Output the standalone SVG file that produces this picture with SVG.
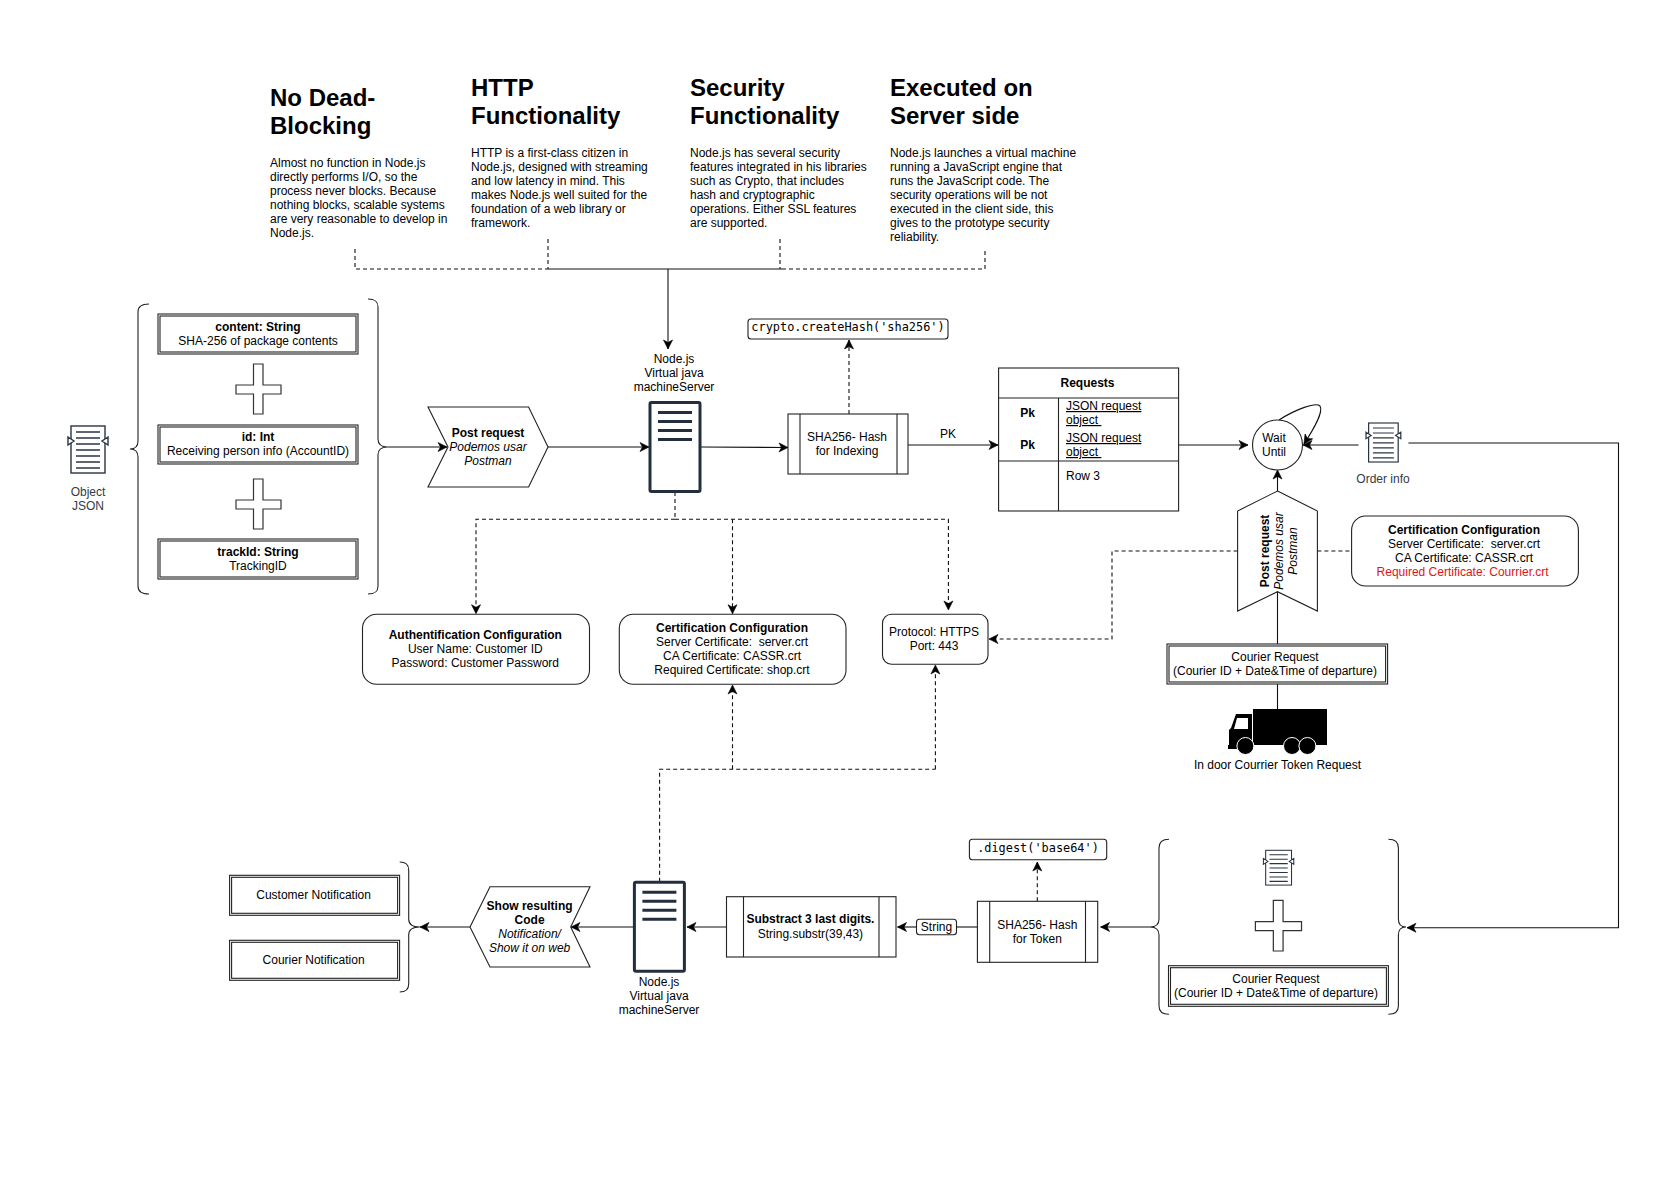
<svg xmlns="http://www.w3.org/2000/svg" width="1674" height="1189" viewBox="0 0 1674 1189">
<style>
text{font-family:"Liberation Sans",Arial,sans-serif;font-size:12px;fill:#000}
text:not(.h):not(.r){transform:translate(0,-1px)}
.c{text-anchor:middle}
.b{font-weight:bold}
.i{font-style:italic}
.h{font-size:24px;font-weight:bold}
.m{font-family:"DejaVu Sans Mono","Liberation Mono",monospace;font-size:11.9px;text-anchor:middle}
.g{fill:#333b47}
.s{fill:#fff;stroke:#222;stroke-width:1.1}
.n{fill:none;stroke:#222;stroke-width:1.1}
.k{fill:none;stroke:#111;stroke-width:1.1}
.a{marker-end:url(#arr)}
.d{fill:none;stroke:#111;stroke-width:1.1;stroke-dasharray:4 3}
.da{marker-end:url(#arr)}
.u{text-decoration:underline;white-space:pre}
</style>
<defs>
<marker id="arr" markerUnits="userSpaceOnUse" markerWidth="12" markerHeight="12" refX="10" refY="6" orient="auto">
<path d="M1 1.5 L10 6 L1 10.5 L3.5 6 Z" fill="#000" stroke="#000" stroke-width=".6"/>
</marker>
<g id="doc" fill="#fff" stroke="#2b3442" stroke-width="1.4">
<rect x="3" y="0" width="34" height="47"/>
<path d="M8 6H32M8 12H32M8 18H32M8 24H32M8 30H32M8 36H32M8 42H32" fill="none"/>
<path d="M0 11 L6 15 L0 19 Z M40 11 L34 15 L40 19 Z"/>
</g>
<g id="server">
<rect x="1" y="0.5" width="50" height="89" rx="1.5" fill="#fff" stroke="#232f3e" stroke-width="3"/>
<path d="M9 10.5H43M9 19.5H43M9 28.5H43M9 37.5H43" stroke="#232f3e" stroke-width="3" fill="none"/>
</g>
<path id="cross" d="M17.5 0H27V21H45V30H27V50H17.5V30H0V21H17.5Z" fill="#fff" stroke="#333" stroke-width="1.2"/>
</defs>
<rect width="1674" height="1189" fill="#fff"/>
<g id="diagram" transform="translate(0 1)">
<g id="connectors">
<path class="d" d="M355 248V268H546M548 238V268M780 238V268M782 268H985V248"/>
<path class="k" d="M546 268H782"/>
<path class="k a" d="M668 268V348"/>
<path class="k a" d="M387.5 446H447"/>
<path class="k a" d="M548 446H649"/>
<path class="k a" d="M701 446L788 446.5"/>
<path class="d da" d="M849 413V339"/>
<path class="k a" d="M908 444H998"/>
<path class="k a" d="M1178.6 444H1248"/>
<path class="k a" d="M1279 419C1296 408 1316 401 1320 405C1324 411 1313 429 1304 443"/>
<path class="k a" d="M1358.6 444H1303" stroke-width="1.6"/>
<path class="k a" d="M1408.4 442H1618.5V926.7H1407"/>
<path class="k a" d="M1277.5 490V469"/>
<path class="k" d="M1277.5 590.7V643M1277.5 683V708"/>
<path class="d da" d="M1237.6 550H1112V638H989"/>
<path class="d" d="M1317.4 550H1351.6"/>
<path class="d" d="M675 491V518.3"/>
<path class="d da" d="M675 518.3H476V612.7"/>
<path class="d da" d="M732.5 518.3V612.7"/>
<path class="d da" d="M675 518.3H948.4V609"/>
<path class="d" d="M659.6 880.7V768.3H935.4"/>
<path class="d da" d="M935.4 768.3V664"/>
<path class="d da" d="M732.5 768.3V684"/>
<path class="k a" d="M470 926H420"/>
<path class="k a" d="M633 926H571"/>
<path class="k a" d="M726.5 926H687"/>
<path class="k a" d="M916.5 926H897.5"/>
<path class="k" d="M956.6 926H977.4"/>
<path class="d da" d="M1037.3 900.3V861"/>
<path class="k a" d="M1150 926H1100.6"/>
</g>

<g id="note-deadblocking">
<text class="h" x="270" y="105">No Dead-</text><text class="h" x="270" y="133">Blocking</text>
<text x="270" y="167">Almost no function in Node.js</text>
<text x="270" y="181">directly performs I/O, so the</text>
<text x="270" y="195">process never blocks. Because</text>
<text x="270" y="209">nothing blocks, scalable systems</text>
<text x="270" y="223">are very reasonable to develop in</text>
<text x="270" y="237">Node.js.</text>
</g>
<g id="note-http">
<text class="h" x="471" y="95">HTTP</text><text class="h" x="471" y="123">Functionality</text>
<text x="471" y="157">HTTP is a first-class citizen in</text>
<text x="471" y="171">Node.js, designed with streaming</text>
<text x="471" y="185">and low latency in mind. This</text>
<text x="471" y="199">makes Node.js well suited for the</text>
<text x="471" y="213">foundation of a web library or</text>
<text x="471" y="227">framework.</text>
</g>
<g id="note-security">
<text class="h" x="690" y="95">Security</text><text class="h" x="690" y="123">Functionality</text>
<text x="690" y="157">Node.js has several security</text>
<text x="690" y="171">features integrated in his libraries</text>
<text x="690" y="185">such as Crypto, that includes</text>
<text x="690" y="199">hash and cryptographic</text>
<text x="690" y="213">operations. Either SSL features</text>
<text x="690" y="227">are supported.</text>
</g>
<g id="note-server">
<text class="h" x="890" y="95">Executed on</text><text class="h" x="890" y="123">Server side</text>
<text x="890" y="157">Node.js launches a virtual machine</text>
<text x="890" y="171">running a JavaScript engine that</text>
<text x="890" y="185">runs the JavaScript code. The</text>
<text x="890" y="199">security operations will be not</text>
<text x="890" y="213">executed in the client side, this</text>
<text x="890" y="227">gives to the prototype security</text>
<text x="890" y="241">reliability.</text>
</g>

<g id="object-json">
<use href="#doc" transform="translate(68 425)"/>
<text class="c g" x="88" y="496">Object</text><text class="c g" x="88" y="510">JSON</text>
</g>
<g id="brace-left"><path class="n" d="M149 303C142 303 138 305 138 311V440C138 446 134 448 130 448C134 448 138 450 138 456V585C138 591 142 593 149 593"/></g>
<g id="brace-right"><path class="n" d="M368 298C375 298 378 300 378 306V438C378 444 382 446 387.5 446C382 446 378 448 378 454V585C378 591 375 593 368 593"/></g>

<g id="content-box"><rect class="s" x="158" y="313" width="200" height="40"/><rect class="s" x="160" y="315" width="196" height="36"/>
<text class="c b" x="258" y="331">content: String</text><text class="c" x="258" y="345">SHA-256 of package contents</text></g>
<g id="plus-1"><use href="#cross" transform="translate(236 363)"/></g>
<g id="id-box"><rect class="s" x="158" y="424" width="200" height="39"/><rect class="s" x="160" y="426" width="196" height="35"/>
<text class="c b" x="258" y="441">id: Int</text><text class="c" x="258" y="455">Receiving person info (AccountID)</text></g>
<g id="plus-2"><use href="#cross" transform="translate(236 478)"/></g>
<g id="trackid-box"><rect class="s" x="158" y="538" width="200" height="40"/><rect class="s" x="160" y="540" width="196" height="36"/>
<text class="c b" x="258" y="556">trackId: String</text><text class="c" x="258" y="570">TrackingID</text></g>

<g id="post-request"><path class="s" d="M428 406H528.6L548 446L528.6 486H428L448 446Z"/>
<text class="c b" x="488" y="437">Post request</text><text class="c i" x="488" y="451">Podemos usar</text><text class="c i" x="488" y="465">Postman</text></g>

<g id="server-top"><text class="c" x="674" y="363">Node.js</text><text class="c" x="674" y="377">Virtual java</text><text class="c" x="674" y="391">machineServer</text>
<use href="#server" transform="translate(649 401)"/></g>

<g id="crypto"><rect class="s" x="748" y="318" width="200" height="20" rx="3"/><text class="m" x="848" y="331">crypto.createHash('sha256')</text></g>
<g id="sha-index"><rect class="s" x="788" y="413" width="120" height="60"/><path class="n" d="M800 413V473M897 413V473"/>
<text class="c" x="847" y="441">SHA256- Hash</text><text class="c" x="847" y="455">for Indexing</text></g>
<text class="c" x="948" y="438">PK</text>

<g id="requests"><rect class="s" x="998.6" y="367" width="180" height="143"/><path class="n" d="M998.6 397H1178.6M998.6 460H1178.6M1058.5 397V510"/>
<text class="c b" x="1087.5" y="387">Requests</text>
<text class="c b" x="1027.7" y="417">Pk</text><text class="c b" x="1027.7" y="449">Pk</text>
<text class="u" x="1066" y="410">JSON request</text><text class="u" x="1066" y="424">object </text>
<text class="u" x="1066" y="442">JSON request</text><text class="u" x="1066" y="456">object </text>
<text x="1066" y="480">Row 3</text></g>

<g id="wait-until"><circle class="s" cx="1277.5" cy="444" r="25"/><text class="c" x="1274" y="442">Wait</text><text class="c" x="1274" y="456">Until</text></g>
<g id="order-info"><use href="#doc" transform="translate(1366 422) scale(.87 .83)"/><text class="c g" x="1383" y="483">Order info</text></g>

<g id="post-request-up"><path class="s" d="M1277.5 490L1317.4 510V610L1277.5 590.7L1237.6 610V510Z"/>
<text class="c b r" transform="translate(1269 550) rotate(-90)">Post request</text>
<text class="c i r" transform="translate(1283 550) rotate(-90)">Podemos usar</text>
<text class="c i r" transform="translate(1297 550) rotate(-90)">Postman</text></g>

<g id="cert-courier"><rect class="s" x="1351.6" y="515" width="226.8" height="70" rx="14"/>
<text class="c b" x="1464" y="534">Certification Configuration</text>
<text class="c" x="1464" y="548" style="white-space:pre">Server Certificate:  server.crt</text>
<text class="c" x="1464" y="562">CA Certificate: CASSR.crt</text>
<text class="c" x="1462.6" y="576" style="fill:#e01515">Required Certificate: Courrier.crt</text></g>

<g id="courier-request"><rect class="s" x="1167" y="643" width="220.6" height="40"/><rect class="s" x="1169" y="645" width="216.6" height="36"/>
<text class="c" x="1275" y="661">Courier Request</text><text class="c" x="1275" y="675">(Courier ID + Date&amp;Time of departure)</text></g>

<g id="truck"><rect x="1253" y="708" width="74" height="36" fill="#000"/>
<path d="M1252 713H1236L1231 727L1229 729V744H1228V748H1252Z" fill="#000"/>
<path d="M1237 717H1248V728H1234Z" fill="#fff"/>
<circle cx="1245.4" cy="745" r="8.5" fill="#000" stroke="#fff" stroke-width="1"/>
<circle cx="1292" cy="745" r="8.5" fill="#000" stroke="#fff" stroke-width="1"/>
<circle cx="1307.4" cy="745" r="8.5" fill="#000" stroke="#fff" stroke-width="1"/>
<text class="c" x="1277.5" y="769">In door Courrier Token Request</text></g>

<g id="auth-config"><rect class="s" x="362.5" y="613.3" width="227" height="70" rx="14"/>
<text class="c b" x="475.3" y="639">Authentification Configuration</text><text class="c" x="475.3" y="653">User Name: Customer ID</text><text class="c" x="475.3" y="667">Password: Customer Password</text></g>
<g id="cert-config"><rect class="s" x="619.3" y="613.3" width="226.7" height="70" rx="14"/>
<text class="c b" x="732" y="632">Certification Configuration</text><text class="c" x="732" y="646" style="white-space:pre">Server Certificate:  server.crt</text><text class="c" x="732" y="660">CA Certificate: CASSR.crt</text><text class="c" x="732" y="674">Required Certificate: shop.crt</text></g>
<g id="protocol"><rect class="s" x="882.5" y="613.3" width="105.5" height="50" rx="9"/>
<text class="c" x="934" y="636">Protocol: HTTPS</text><text class="c" x="934" y="650">Port: 443</text></g>

<g id="brace-notify"><path class="n" d="M399.7 861C405 861 408.7 863 408.7 869V918C408.7 924 414 926 419.8 926C414 926 408.7 928 408.7 934V983C408.7 989 405 991 399.7 991"/></g>
<g id="customer-notification"><rect class="s" x="229.6" y="874.3" width="170" height="40"/><rect class="s" x="231.6" y="876.3" width="166" height="36"/><text class="c" x="313.6" y="899">Customer Notification</text></g>
<g id="courier-notification"><rect class="s" x="229.6" y="939.3" width="170" height="40"/><rect class="s" x="231.6" y="941.3" width="166" height="36"/><text class="c" x="313.6" y="964">Courier Notification</text></g>

<g id="show-code"><path class="s" d="M490 885.7H590L570.7 926L590 966H490L470 926Z"/>
<text class="c b" x="529.6" y="910">Show resulting</text><text class="c b" x="529.6" y="924">Code</text><text class="c i" x="529.6" y="938">Notification/</text><text class="c i" x="529.6" y="952">Show it on web</text></g>

<g id="server-bottom"><use href="#server" transform="translate(633.4 880.7)"/>
<text class="c" x="659" y="986">Node.js</text><text class="c" x="659" y="1000">Virtual java</text><text class="c" x="659" y="1014">machineServer</text></g>

<g id="substract"><rect class="s" x="726.5" y="895.7" width="169.5" height="60.3"/><path class="n" d="M743.5 895.7V956M879 895.7V956"/>
<text class="c b" x="810.4" y="923">Substract 3 last digits.</text><text class="c" x="810.4" y="938">String.substr(39,43)</text></g>

<g id="string-label"><rect class="s" x="916.5" y="918.3" width="40" height="15.4" rx="3"/><text class="c" x="936.5" y="931">String</text></g>

<g id="sha-token"><rect class="s" x="977.4" y="900.3" width="120.3" height="61"/><path class="n" d="M989.7 900.3V961.3M1085.5 900.3V961.3"/>
<text class="c" x="1037.3" y="929">SHA256- Hash</text><text class="c" x="1037.3" y="943">for Token</text></g>

<g id="digest"><rect class="s" x="969.4" y="838.3" width="137.3" height="20.4" rx="3"/><text class="m" x="1038" y="852">.digest('base64')</text></g>

<g id="brace-token-left"><path class="n" d="M1169 838.3C1162 838.3 1159 841 1159 847V918C1159 924 1155 926 1150 926C1155 926 1159 928 1159 934V1005C1159 1011 1162 1013.3 1169 1013.3"/></g>
<g id="brace-token-right"><path class="n" d="M1388.4 838.3C1395 838.3 1398.4 841 1398.4 847V918C1398.4 924 1402 926 1406 926C1402 926 1398.4 928 1398.4 934V1005C1398.4 1011 1395 1013.3 1388.4 1013.3"/></g>
<g id="token-doc"><use href="#doc" transform="translate(1263.4 849.3) scale(.76 .74)"/></g>
<g id="plus-3"><use href="#cross" transform="translate(1255.4 899.3) scale(1.025 1.014)"/></g>
<g id="courier-request-2"><rect class="s" x="1168.5" y="964.7" width="219.9" height="40.6" stroke-width="1.6"/><rect class="s" x="1170.5" y="966.7" width="215.9" height="36.6"/>
<text class="c" x="1276" y="983">Courier Request</text><text class="c" x="1276" y="997">(Courier ID + Date&amp;Time of departure)</text></g>
</g>
</svg>
